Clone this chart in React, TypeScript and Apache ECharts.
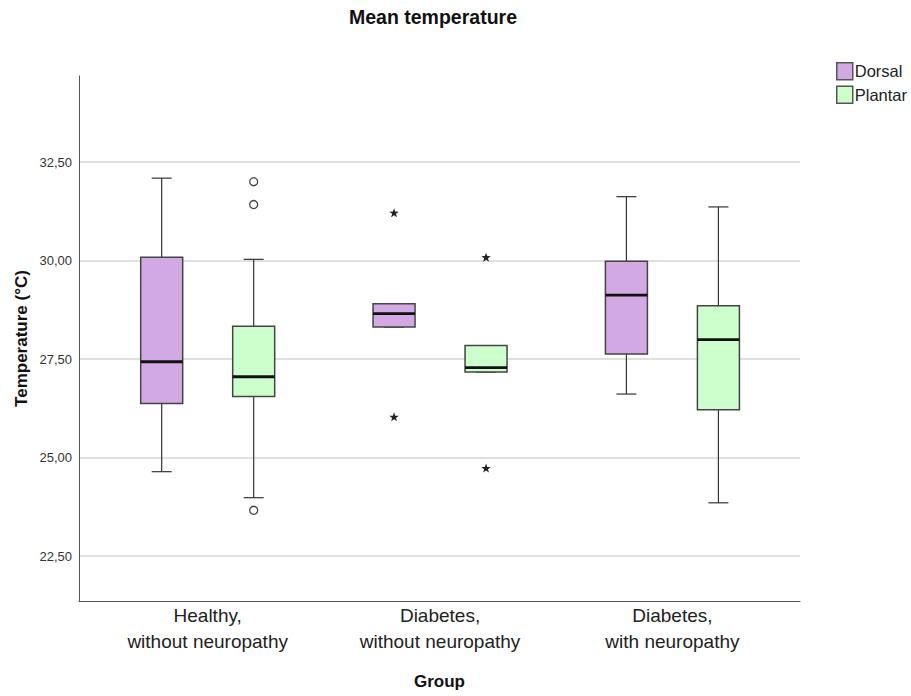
import React, { useEffect, useRef } from "react";
import * as echarts from "echarts";

// ---------- data ----------
const groups = [
  "Healthy,\nwithout neuropathy",
  "Diabetes,\nwithout neuropathy",
  "Diabetes,\nwith neuropathy",
];
const seriesNames = ["Dorsal", "Plantar"];
const yTicks = [22.5, 25, 27.5, 30, 32.5];

// [whiskerLow, Q1, median, Q3, whiskerHigh] per group
const dorsalBoxes = [
  [24.64, 26.37, 27.43, 30.08, 32.09],
  [28.31, 28.31, 28.65, 28.9, 28.9],
  [26.61, 27.63, 29.12, 29.98, 31.62],
];
const plantarBoxes = [
  [23.98, 26.55, 27.05, 28.33, 30.03],
  [27.17, 27.17, 27.28, 27.84, 27.84],
  [23.85, 26.21, 27.99, 28.85, 31.36],
];
// outliers (circles): [groupIndex, value]
const dorsalOutliers: number[][] = [];
const plantarOutliers = [
  [0, 32.0],
  [0, 31.42],
  [0, 23.66],
];
// extremes (stars): [groupIndex, value]
const dorsalExtremes = [
  [1, 31.2],
  [1, 26.02],
];
const plantarExtremes = [
  [1, 30.07],
  [1, 24.72],
];

const colors = ["#D2A9E3", "#CCFFCC"];
const OFFSETS = [-46, 46];
const BOX_W = 42;
const CAP_W = 20;
const FONT = "'Liberation Sans', Arial, sans-serif";

function starPoints(cx: number, cy: number, ro: number, ri: number) {
  const pts: number[][] = [];
  for (let i = 0; i < 10; i++) {
    const r = i % 2 === 0 ? ro : ri;
    const a = -Math.PI / 2 + (i * Math.PI) / 5;
    pts.push([cx + r * Math.cos(a), cy + r * Math.sin(a)]);
  }
  return pts;
}

function boxSeries(name: string, idx: number, boxes: number[][]) {
  return {
    type: "custom",
    name,
    xAxisIndex: 2,
    yAxisIndex: 2,
    itemStyle: { color: colors[idx], borderColor: "#444", borderWidth: 1 },
    encode: { x: 0, y: [1, 2, 3, 4, 5] },
    data: boxes.map((b, i) => [i, ...b]),
    renderItem: (params: any, api: any) => {
      const cat = api.value(0);
      const lo = api.coord([cat, api.value(1)]);
      const q1 = api.coord([cat, api.value(2)]);
      const med = api.coord([cat, api.value(3)]);
      const q3 = api.coord([cat, api.value(4)]);
      const hi = api.coord([cat, api.value(5)]);
      const x = med[0] + OFFSETS[idx];
      const ws = { stroke: "#333", lineWidth: 1.2 };
      return {
        type: "group",
        children: [
          { type: "line", shape: { x1: x, y1: hi[1], x2: x, y2: q3[1] }, style: ws },
          { type: "line", shape: { x1: x, y1: q1[1], x2: x, y2: lo[1] }, style: ws },
          { type: "line", shape: { x1: x - CAP_W / 2, y1: hi[1], x2: x + CAP_W / 2, y2: hi[1] }, style: ws },
          { type: "line", shape: { x1: x - CAP_W / 2, y1: lo[1], x2: x + CAP_W / 2, y2: lo[1] }, style: ws },
          {
            type: "rect",
            shape: { x: x - BOX_W / 2, y: q3[1], width: BOX_W, height: q1[1] - q3[1] },
            style: { fill: colors[idx], stroke: "#444", lineWidth: 1.5 },
          },
          {
            type: "line",
            shape: { x1: x - BOX_W / 2, y1: med[1], x2: x + BOX_W / 2, y2: med[1] },
            style: { stroke: "#111", lineWidth: 2.8 },
          },
        ],
      };
    },
  };
}

function pointSeries(name: string, idx: number, pts: number[][], kind: "circle" | "star") {
  return {
    type: "custom",
    name,
    xAxisIndex: 2,
    yAxisIndex: 2,
    encode: { x: 0, y: 1 },
    data: pts,
    z: 5,
    renderItem: (params: any, api: any) => {
      const c = api.coord([api.value(0), api.value(1)]);
      const x = c[0] + OFFSETS[idx];
      if (kind === "circle") {
        return {
          type: "circle",
          shape: { cx: x, cy: c[1], r: 4 },
          style: { fill: "#fff", stroke: "#444", lineWidth: 1.3 },
        };
      }
      return {
        type: "polygon",
        shape: { points: starPoints(x, c[1], 5, 2) },
        style: { fill: "#222" },
      };
    },
  };
}

export default function App() {
  const ref = useRef<HTMLDivElement>(null);
  useEffect(() => {
    if (!ref.current) return;
    const chart = echarts.init(ref.current, undefined, { renderer: "svg" });
    const hidden = { show: false };
    chart.setOption({
      animation: false,
      backgroundColor: "#fff",
      graphic: [
        {
          type: "text",
          x: 433,
          y: 17,
          style: {
            text: "Mean temperature",
            textAlign: "center",
            textVerticalAlign: "middle",
            fontFamily: FONT,
            fontWeight: "bold",
            fontSize: 19.5,
            fill: "#111",
          },
        },
      ],
      legend: {
        orient: "vertical",
        left: 836,
        top: 62,
        padding: 0,
        itemWidth: 16,
        itemHeight: 17,
        itemGap: 5,
        icon: "rect",
        data: seriesNames.map((n, i) => ({
          name: n,
          itemStyle: { color: colors[i], borderColor: "#555", borderWidth: 1.5 },
        })),
        textStyle: { fontFamily: FONT, fontSize: 16.5, color: "#222", padding: [0, 0, 0, -3] },
      },
      grid: [
        { left: 79, right: 111, top: 76, bottom: 95 },
        { left: 79, right: 111, top: 162, bottom: 140 },
        { left: 91.5, right: 122.4, top: 162, bottom: 140 },
      ],
      xAxis: [
        {
          gridIndex: 0,
          type: "value",
          min: 0,
          max: 1,
          axisLine: { show: true, onZero: false, lineStyle: { color: "#555", width: 1 } },
          axisTick: hidden,
          axisLabel: hidden,
          splitLine: hidden,
          name: "Group",
          nameLocation: "middle",
          nameGap: 72,
          nameTextStyle: { fontFamily: FONT, fontWeight: "bold", fontSize: 17, color: "#111" },
        },
        { gridIndex: 1, type: "value", show: false, min: 0, max: 1 },
        {
          gridIndex: 2,
          type: "category",
          data: groups,
          axisLine: hidden,
          axisTick: hidden,
          splitLine: hidden,
          axisLabel: {
            margin: 46,
            fontFamily: FONT,
            fontSize: 19,
            lineHeight: 26,
            color: "#222",
          },
        },
      ],
      yAxis: [
        {
          gridIndex: 0,
          type: "value",
          min: 0,
          max: 1,
          axisLine: { show: true, onZero: false, lineStyle: { color: "#555", width: 1 } },
          axisTick: hidden,
          axisLabel: hidden,
          splitLine: hidden,
          name: "Temperature (°C)",
          nameLocation: "middle",
          nameGap: 49,
          nameTextStyle: { fontFamily: FONT, fontWeight: "bold", fontSize: 17, color: "#111" },
        },
        {
          gridIndex: 1,
          type: "value",
          min: yTicks[0],
          max: yTicks[yTicks.length - 1],
          interval: 2.5,
          axisLine: hidden,
          axisTick: hidden,
          axisLabel: {
            margin: 7,
            fontFamily: FONT,
            fontSize: 13,
            color: "#333",
            formatter: (v: number) => v.toFixed(2).replace(".", ","),
          },
          splitLine: { show: true, lineStyle: { color: "#D6D6D6", width: 1.5 } },
        },
        {
          gridIndex: 2,
          type: "value",
          show: false,
          min: yTicks[0],
          max: yTicks[yTicks.length - 1],
        },
      ],
      series: [
        boxSeries(seriesNames[0], 0, dorsalBoxes),
        boxSeries(seriesNames[1], 1, plantarBoxes),
        pointSeries("Dorsal outliers", 0, dorsalOutliers, "circle"),
        pointSeries("Plantar outliers", 1, plantarOutliers, "circle"),
        pointSeries("Dorsal extremes", 0, dorsalExtremes, "star"),
        pointSeries("Plantar extremes", 1, plantarExtremes, "star"),
      ],
    });
    return () => chart.dispose();
  }, []);
  return (
    <div
      ref={ref}
      style={{ position: "fixed", left: 0, top: 0, width: 911, height: 696 }}
    />
  );
}
